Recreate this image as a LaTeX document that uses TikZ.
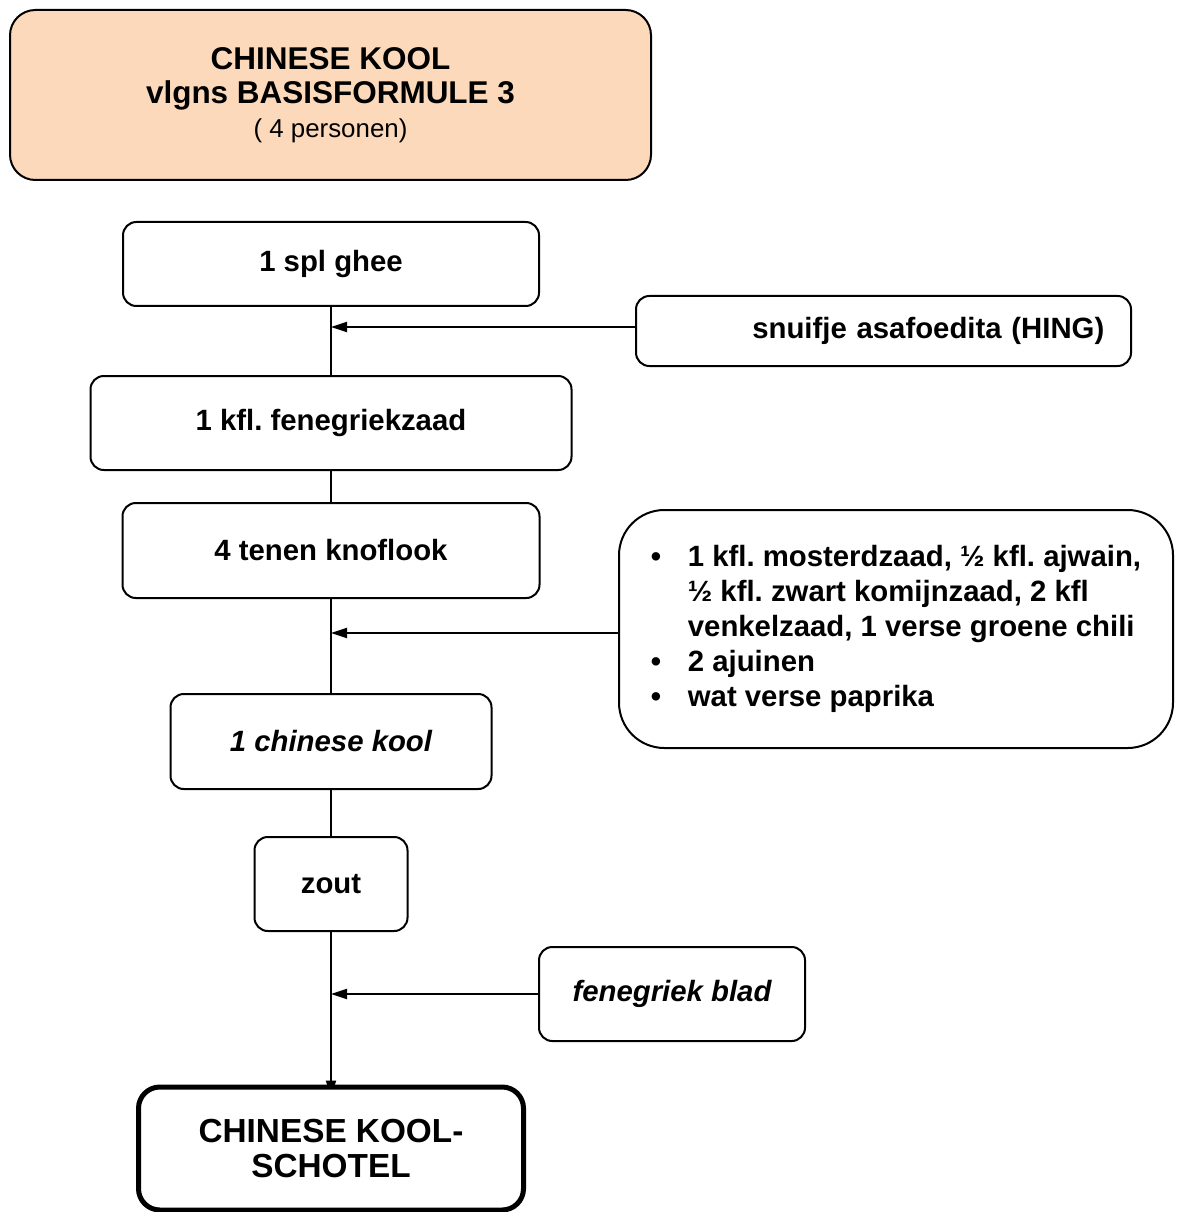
\documentclass[tikz,border=0pt]{standalone}
\usepackage{fontspec}
\setmainfont{Liberation Sans}
\frenchspacing
\definecolor{TitleColor}{RGB}{252,217,187}
\usepackage{tikz}
\usetikzlibrary{positioning, arrows.meta, backgrounds}
\tikzstyle{stepbox} = [draw, line width=1.5pt, rounded corners=10pt, align=center, inner sep=0pt, font=\fontsize{22}{26.25}\selectfont\bfseries]
\tikzstyle{link} = [line width=1.5pt]
\tikzstyle{arrow} = [line width=1.5pt, -{Triangle[length=12pt,width=7.5pt]}]

\begin{document}
\begin{tikzpicture}[x=0.75pt, y=-0.75pt]
        \useasboundingbox (0,0) rectangle (1179,1212);

        % Title
        \node[stepbox, fill=TitleColor, rounded corners=19pt, minimum width=480.75pt, minimum height=127.5pt,
              font=\fontsize{23.6}{25.5}\selectfont\bfseries] (title) at (330.5,95)
              {CHINESE KOOL\\vlgns BASISFORMULE 3\\{\mdseries\fontsize{19.4}{25.5}\selectfont ( 4 personen)}};

        % Main chain
        \node[stepbox, minimum width=312pt, minimum height=63pt] (ghee) at (331,264) {1 spl ghee};
        \node[stepbox, minimum width=360.75pt, minimum height=70.5pt] (fenu) at (331,423) {1 kfl. fenegriekzaad};
        \node[stepbox, minimum width=312.75pt, minimum height=71.25pt] (garlic) at (331,550.5) {4 tenen knoflook};
        \node[stepbox, minimum width=240.75pt, minimum height=71.25pt] (kool) at (331,741.5) {\itshape 1 chinese kool};
        \node[stepbox, minimum width=114.75pt, minimum height=70.5pt] (zout) at (331,884) {zout};
        \node[stepbox, fill=white, line width=3.75pt, rounded corners=16pt, minimum width=288.75pt, minimum height=92.25pt,
              font=\fontsize{25}{26.25}\selectfont\bfseries] (final) at (331,1148.5) {CHINESE KOOL-\\SCHOTEL};

        % Side inputs
        \node[stepbox, minimum height=52.5pt, text width=331.25pt, inner xsep=20pt, align=right] (hing) at (883.5,331)
              {snuifje asafoedita (HING)};
        \node[stepbox, rounded corners=34pt, minimum width=415.5pt, minimum height=178.5pt] (spice) at (896,629) {%
              \begin{tabular}{@{}l@{\hspace{20pt}}l@{}}
              \textbullet & 1 kfl. mosterdzaad, ½ kfl. ajwain,\\
                          & ½ kfl. zwart komijnzaad, 2 kfl\\
                          & venkelzaad, 1 verse groene chili\\
              \textbullet & 2 ajuinen\\
              \textbullet & wat verse paprika
              \end{tabular}};
        \node[stepbox, minimum width=199.5pt, minimum height=70.5pt] (blad) at (672,994) {\itshape fenegriek blad};

        % Connectors
        \begin{scope}[on background layer]
          \draw[link] (ghee) -- (fenu);
          \draw[link] (fenu) -- (garlic);
          \draw[link] (garlic) -- (kool);
          \draw[link] (kool) -- (zout);
          \draw[arrow, shorten >=-9pt] (zout) -- (final.north);
        \end{scope}
        \draw[arrow] ([yshift=3pt]hing.west) -- ([yshift=3pt]hing.west -| ghee.south);
        \draw[arrow] ([yshift=-3pt]spice.west) -- ([yshift=-3pt]spice.west -| garlic.south);
        \draw[arrow] (blad.west) -- (blad.west -| zout.south);

      \end{tikzpicture}
\end{document}
